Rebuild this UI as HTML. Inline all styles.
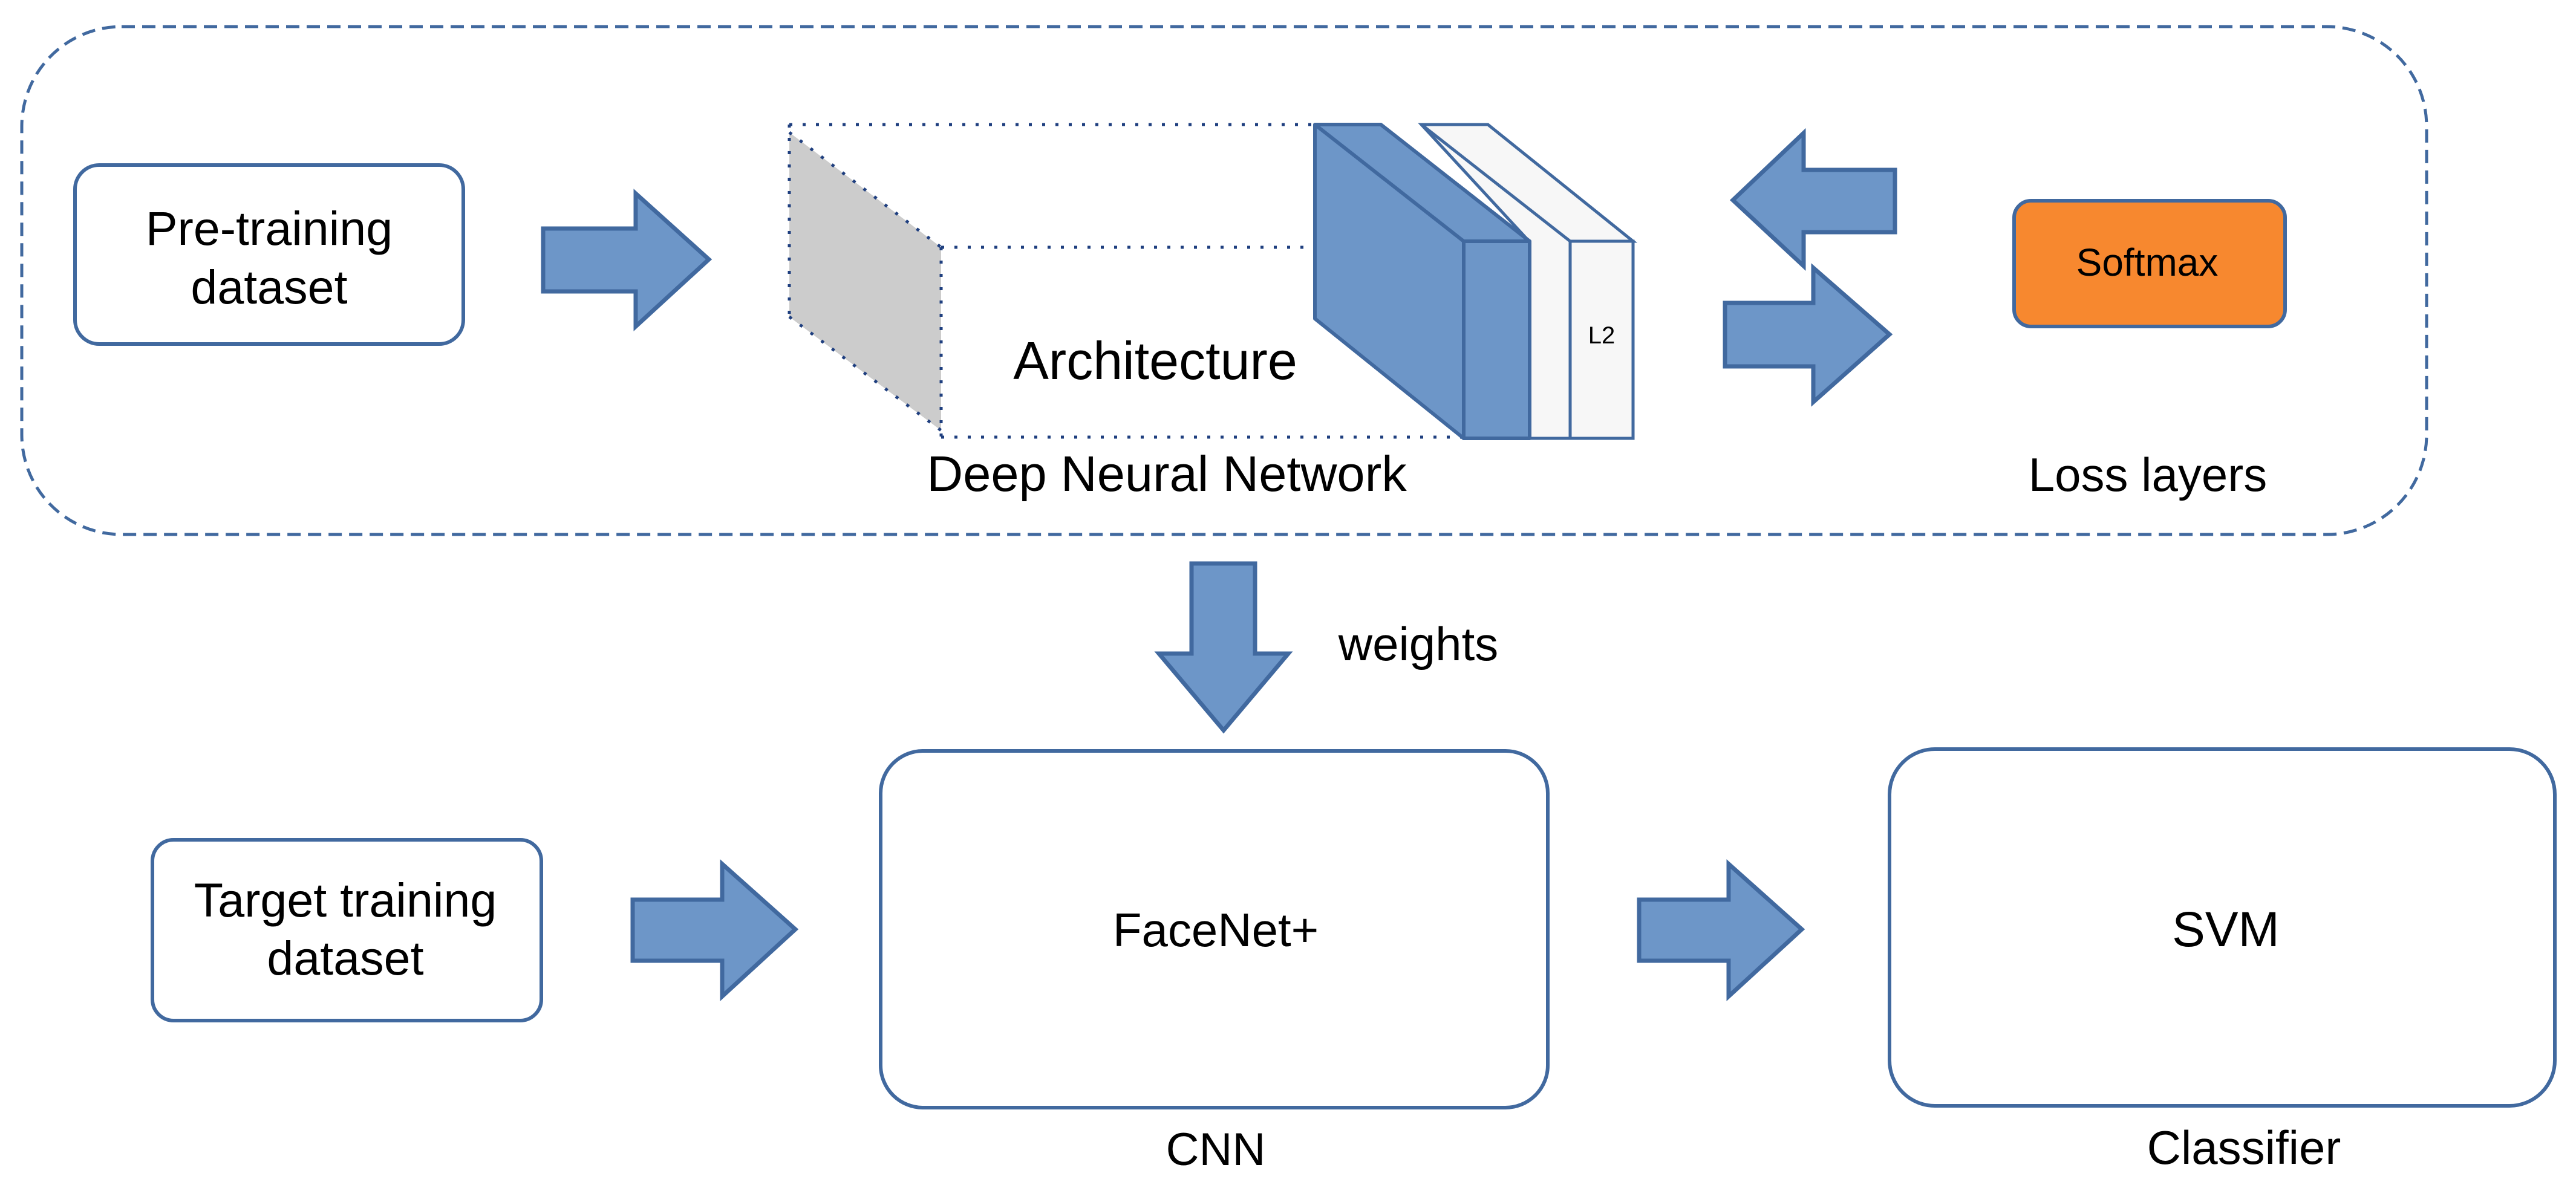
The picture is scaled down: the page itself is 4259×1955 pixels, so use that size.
<!DOCTYPE html>
<html><head><meta charset="utf-8"><style>
html,body{margin:0;padding:0;background:#fff}
svg{display:block}
text{font-family:"Liberation Sans",sans-serif;fill:#000}
</style></head><body>
<svg width="4259" height="1955" viewBox="0 0 4259 1955" xmlns="http://www.w3.org/2000/svg">
<rect x="36" y="44" width="3976" height="840" rx="165" ry="165" fill="none" stroke="#41699F" stroke-width="5" stroke-dasharray="22,12"/>

<rect x="124" y="273" width="642" height="296" rx="40" fill="#fff" stroke="#41699F" stroke-width="6"/>
<text x="445" y="405" font-size="79" text-anchor="middle">Pre-training</text>
<text x="445" y="502" font-size="79" text-anchor="middle">dataset</text>

<g fill="#6D96C8" stroke="#41699F" stroke-width="7" stroke-linejoin="miter">
<polygon points="898,378 1051,378 1051,320 1172,429 1051,540 1051,482 898,482"/>
<polygon points="3133,281 2982,281 2982,220 2865,331 2982,440 2982,384 3133,384"/>
<polygon points="2852,501 2998,501 2998,443 3124,553 2998,665 2998,606 2852,606"/>
<polygon points="1970,932 2075,932 2075,1081 2130,1081 2023,1208 1916,1081 1970,1081"/>
<polygon points="1046,1488 1194,1488 1194,1429 1315,1537 1194,1648 1194,1589 1046,1589"/>
<polygon points="2710,1488 2858,1488 2858,1429 2979,1537 2858,1648 2858,1589 2710,1589"/>
</g>

<polygon points="1305,219 1556,409 1556,712 1305,524" fill="#cccccc"/>
<g stroke="#1F3F7F" stroke-width="5" stroke-dasharray="5,17" fill="none">
<line x1="1305" y1="206" x2="2184" y2="206"/>
<line x1="1556" y1="409" x2="2430" y2="409"/>
<line x1="1556" y1="723" x2="2430" y2="723"/>
<line x1="1305" y1="206" x2="1305" y2="524"/>
<line x1="1556" y1="409" x2="1556" y2="723"/>
<line x1="1305" y1="219" x2="1556" y2="409"/>
<line x1="1305" y1="524" x2="1556" y2="712"/>
</g>
<g stroke="#41699F" stroke-width="5" fill="#F7F7F7">
<polygon points="2350,206 2460,206 2700,399 2596,399 2596,725 2528,725 2528,399"/>
<rect x="2596" y="399" width="104" height="326"/>
<line x1="2350" y1="206" x2="2596" y2="399"/>
</g>
<text x="2648" y="568" font-size="40" text-anchor="middle">L2</text>
<g stroke="#41699F" stroke-width="6" fill="#6D96C8" stroke-linejoin="round">
<polygon points="2174,206 2283,206 2529,399 2529,725 2420,725 2174,527"/>
<rect x="2420" y="399" width="109" height="326"/>
<line x1="2174" y1="206" x2="2420" y2="399"/>
</g>
<text x="1910" y="627" font-size="88" text-anchor="middle">Architecture</text>
<text x="1929" y="812" font-size="83" text-anchor="middle">Deep Neural Network</text>

<rect x="3330" y="332" width="448" height="208" rx="28" fill="#F7882F" stroke="#41699F" stroke-width="6"/>
<text x="3550" y="456" font-size="64" text-anchor="middle">Softmax</text>
<text x="3551" y="812" font-size="78" text-anchor="middle">Loss layers</text>

<text x="2345" y="1092" font-size="78" text-anchor="middle">weights</text>

<rect x="252" y="1389" width="643" height="299" rx="35" fill="#fff" stroke="#41699F" stroke-width="6"/>
<text x="571" y="1516" font-size="79" text-anchor="middle">Target training</text>
<text x="571" y="1612" font-size="79" text-anchor="middle">dataset</text>

<rect x="1456" y="1242" width="1103" height="590" rx="70" fill="#fff" stroke="#41699F" stroke-width="6"/>
<text x="2010" y="1565" font-size="78" text-anchor="middle">FaceNet+</text>
<rect x="3124" y="1239" width="1100" height="590" rx="75" fill="#fff" stroke="#41699F" stroke-width="6"/>
<text x="3680" y="1565" font-size="82" text-anchor="middle">SVM</text>

<text x="2010" y="1927" font-size="76" text-anchor="middle">CNN</text>
<text x="3710" y="1925" font-size="78" text-anchor="middle">Classifier</text>
</svg>
</body></html>
